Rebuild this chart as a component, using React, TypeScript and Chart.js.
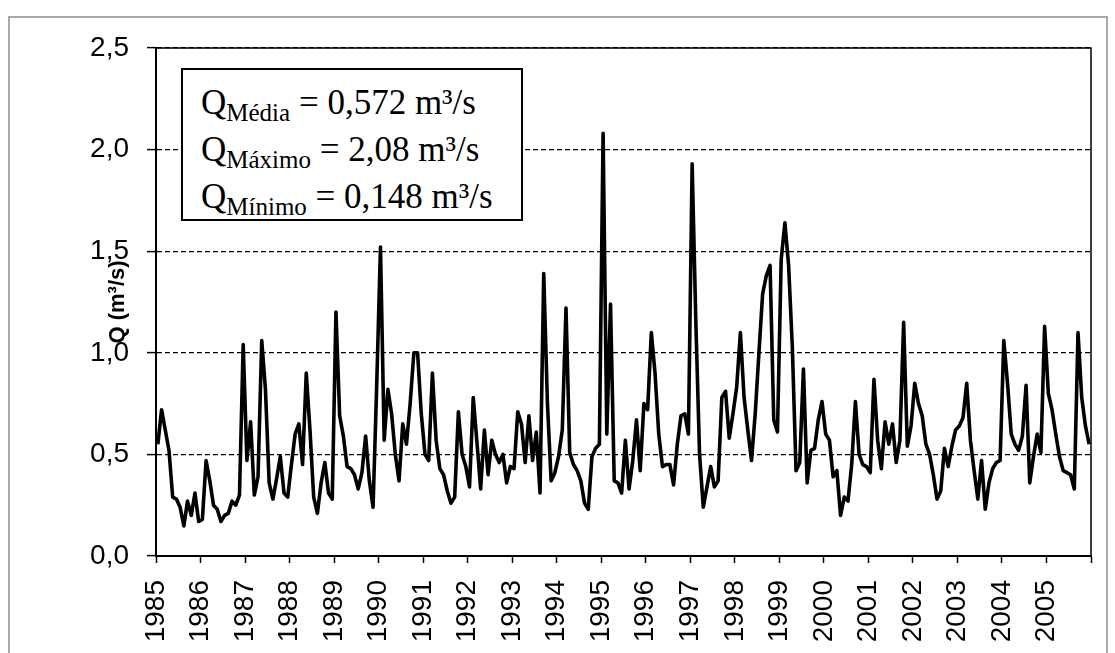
import { useEffect, useRef } from 'react';
import { Chart, registerables } from 'chart.js';

Chart.register(...registerables);

// Monthly mean discharge (m³/s), January to December of each year
const q1985 = [0.55, 0.72, 0.62, 0.52, 0.29, 0.28, 0.24, 0.148, 0.27, 0.2, 0.31, 0.17];
const q1986 = [0.18, 0.47, 0.37, 0.25, 0.23, 0.17, 0.2, 0.21, 0.27, 0.25, 0.3, 1.04];
const q1987 = [0.47, 0.66, 0.3, 0.39, 1.06, 0.82, 0.36, 0.28, 0.38, 0.49, 0.31, 0.29];
const q1988 = [0.45, 0.6, 0.65, 0.45, 0.9, 0.62, 0.29, 0.21, 0.36, 0.46, 0.31, 0.28];
const q1989 = [1.2, 0.69, 0.59, 0.44, 0.43, 0.4, 0.33, 0.41, 0.59, 0.37, 0.24, 0.85];
const q1990 = [1.52, 0.57, 0.82, 0.7, 0.5, 0.37, 0.65, 0.55, 0.75, 1.0, 1.0, 0.7];
const q1991 = [0.5, 0.47, 0.9, 0.57, 0.43, 0.4, 0.32, 0.26, 0.29, 0.71, 0.5, 0.44];
const q1992 = [0.34, 0.78, 0.56, 0.33, 0.62, 0.4, 0.57, 0.5, 0.46, 0.5, 0.36, 0.44];
const q1993 = [0.43, 0.71, 0.65, 0.46, 0.69, 0.47, 0.61, 0.31, 1.39, 0.75, 0.37, 0.41];
const q1994 = [0.49, 0.62, 1.22, 0.51, 0.45, 0.42, 0.37, 0.26, 0.23, 0.49, 0.53, 0.55];
const q1995 = [2.08, 0.6, 1.24, 0.37, 0.36, 0.31, 0.57, 0.33, 0.47, 0.67, 0.42, 0.75];
const q1996 = [0.72, 1.1, 0.9, 0.6, 0.44, 0.45, 0.45, 0.35, 0.55, 0.69, 0.7, 0.6];
const q1997 = [1.93, 1.15, 0.5, 0.24, 0.34, 0.44, 0.34, 0.37, 0.78, 0.81, 0.58, 0.7];
const q1998 = [0.83, 1.1, 0.78, 0.62, 0.47, 0.7, 1.0, 1.29, 1.38, 1.43, 0.67, 0.61];
const q1999 = [1.46, 1.64, 1.43, 1.03, 0.42, 0.46, 0.92, 0.36, 0.52, 0.53, 0.67, 0.76];
const q2000 = [0.6, 0.57, 0.39, 0.42, 0.2, 0.29, 0.27, 0.45, 0.76, 0.5, 0.45, 0.44];
const q2001 = [0.41, 0.87, 0.57, 0.43, 0.66, 0.55, 0.65, 0.46, 0.57, 1.15, 0.54, 0.64];
const q2002 = [0.85, 0.75, 0.69, 0.55, 0.5, 0.4, 0.28, 0.32, 0.53, 0.44, 0.54, 0.62];
const q2003 = [0.64, 0.68, 0.85, 0.57, 0.42, 0.28, 0.47, 0.23, 0.36, 0.43, 0.46, 0.47];
const q2004 = [1.06, 0.85, 0.6, 0.55, 0.52, 0.59, 0.84, 0.36, 0.49, 0.6, 0.51, 1.13];
const q2005 = [0.8, 0.72, 0.6, 0.49, 0.42, 0.41, 0.4, 0.33, 1.1, 0.78, 0.64, 0.55];

const firstYear = 1985;
const monthlyByYear = [
  q1985, q1986, q1987, q1988, q1989, q1990, q1991, q1992, q1993, q1994, q1995,
  q1996, q1997, q1998, q1999, q2000, q2001, q2002, q2003, q2004, q2005,
];

const yearLabels = [
  '1985', '1986', '1987', '1988', '1989', '1990', '1991', '1992', '1993', '1994', '1995',
  '1996', '1997', '1998', '1999', '2000', '2001', '2002', '2003', '2004', '2005',
];
const qTickLabels = ['0,0', '0,5', '1,0', '1,5', '2,0', '2,5'];

const statNames = ['Média', 'Máximo', 'Mínimo'];
const statValues = ['0,572', '2,08', '0,148'];

// each month sits in the middle of its slot between year ticks
const points = monthlyByYear.flatMap((months, yi) =>
  months.map((q, m) => ({ x: firstYear + yi + (m + 0.5) / 12, y: q }))
);

const plotFrame = {
  id: 'plotFrame',
  afterDraw(chart: any) {
    const { ctx, chartArea: a } = chart;
    ctx.save();
    ctx.strokeStyle = '#000';
    ctx.lineWidth = 1.5;
    ctx.beginPath();
    ctx.moveTo(a.left, a.top);
    ctx.lineTo(a.right, a.top);
    ctx.lineTo(a.right, a.bottom);
    ctx.stroke();
    ctx.restore();
  },
};

export default function App() {
  const canvasRef = useRef<HTMLCanvasElement>(null);

  useEffect(() => {
    const chart = new Chart(canvasRef.current!, {
      type: 'line',
      data: {
        datasets: [
          {
            data: points,
            borderColor: '#000',
            borderWidth: 3.6,
            borderJoinStyle: 'round',
            pointRadius: 0,
            tension: 0,
            fill: false,
          },
        ],
      },
      options: {
        animation: false,
        responsive: false,
        devicePixelRatio: 1,
        events: [],
        layout: { padding: { top: 48, right: 24, left: 0, bottom: 0 } },
        plugins: { legend: { display: false }, tooltip: { enabled: false } },
        scales: {
          x: {
            type: 'linear',
            min: firstYear,
            max: firstYear + yearLabels.length,
            afterFit: (s: any) => {
              s.height = 97;
              s.paddingLeft = 0;
              s.paddingRight = 0;
            },
            afterBuildTicks: (s: any) => {
              s.ticks = Array.from({ length: yearLabels.length + 1 }, (_, i) => ({ value: firstYear + i }));
            },
            ticks: {
              autoSkip: false,
              minRotation: 90,
              maxRotation: 90,
              padding: 17,
              color: '#000',
              font: { family: 'Liberation Sans', size: 28 },
              callback: (v: any) => yearLabels[Math.round(v) - firstYear] ?? '',
            },
            grid: {
              drawOnChartArea: false,
              drawTicks: true,
              tickLength: 7,
              tickColor: '#000',
              tickWidth: 1.5,
            },
            border: { display: true, color: '#000', width: 2 },
          },
          y: {
            min: 0,
            max: 2.5,
            afterFit: (s: any) => {
              s.width = 156;
              s.paddingTop = 0;
              s.paddingBottom = 0;
            },
            afterBuildTicks: (s: any) => {
              s.ticks = qTickLabels.map((_, i) => ({ value: i * 0.5 }));
            },
            ticks: {
              padding: 18,
              color: '#000',
              font: { family: 'Liberation Sans', size: 28 },
              callback: (_v: any, i: number) => qTickLabels[i],
            },
            grid: {
              color: (c: any) => (c.tick && c.tick.value === 0 ? 'rgba(0,0,0,0)' : '#000'),
              lineWidth: 1.2,
              drawTicks: true,
              tickLength: 9,
              tickColor: '#000',
              tickWidth: 1.5,
            },
            border: { display: true, color: '#000', width: 2, dash: [5, 3] },
            title: {
              display: true,
              text: 'Q (m³/s)',
              color: '#000',
              font: { family: 'Liberation Sans', size: 22, weight: 'bold' },
              padding: { top: 105, bottom: 0 },
            },
          },
        },
      },
      plugins: [plotFrame],
    } as any);
    return () => chart.destroy();
  }, []);

  return (
    <div>
      <div
        style={{
          position: 'fixed',
          left: 8,
          top: 16,
          width: 1100,
          height: 700,
          border: '2px solid #a8a8a8',
          boxSizing: 'border-box',
        }}
      />
      <canvas
        ref={canvasRef}
        width={1115}
        height={653}
        style={{ position: 'fixed', left: 0, top: 0, width: 1115, height: 653 }}
      />
      <div
        style={{
          position: 'fixed',
          left: 181,
          top: 68,
          width: 342,
          height: 153,
          boxSizing: 'border-box',
          border: '2px solid #000',
          background: '#fff',
          paddingLeft: 18,
          paddingTop: 11,
          fontFamily: '"Liberation Serif", "Times New Roman", serif',
          fontSize: 35,
          lineHeight: '44px',
          color: '#000',
          whiteSpace: 'nowrap',
        }}
      >
        {statNames.map((name, i) => (
          <div key={name}>
            Q
            <span style={{ fontSize: 25, position: 'relative', top: 7 }}>{name}</span>
            {' = ' + statValues[i] + ' m³/s'}
          </div>
        ))}
      </div>
    </div>
  );
}
